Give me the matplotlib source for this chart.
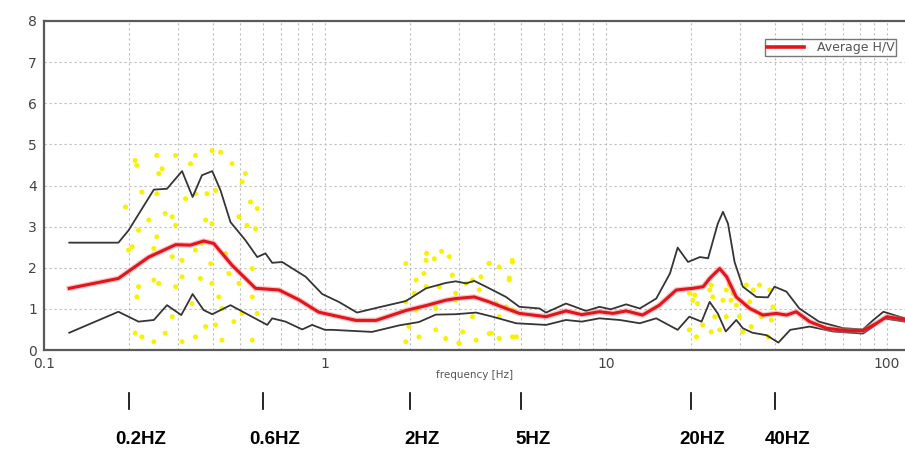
"""
H/V spectral ratio plot — average curve with +/- std envelopes,
yellow window-scatter blobs, and frequency markers underneath.
"""

import matplotlib
matplotlib.use("Agg")
import matplotlib.pyplot as plt
import matplotlib.transforms as mtransforms
from matplotlib.ticker import FixedLocator, NullFormatter

# ── Average H/V (red) ──────────────────────────────────────────────────────
avg_f = [0.123, 0.184, 0.236, 0.294, 0.332, 0.37, 0.402, 0.467, 0.566, 0.686,
         0.808, 0.95, 1.29, 1.52, 1.94, 2.29, 2.69, 2.92, 3.40, 3.84, 4.41,
         4.92, 5.49, 6.12, 7.21, 8.2, 9.48, 10.6, 11.8, 13.5, 15.5, 17.8,
         20.4, 22.2, 23.4, 25.4, 26.9, 29.1, 32.5, 36.2, 40.4, 43.9, 47.6,
         53.1, 60.9, 71.8, 82.2, 91.8, 100, 116]
avg_v = [1.50, 1.74, 2.26, 2.56, 2.55, 2.65, 2.59, 2.06, 1.50, 1.46,
         1.22, 0.92, 0.72, 0.72, 0.96, 1.08, 1.21, 1.25, 1.29, 1.17, 1.01,
         0.89, 0.85, 0.81, 0.95, 0.86, 0.93, 0.89, 0.95, 0.85, 1.09, 1.46,
         1.50, 1.54, 1.74, 1.98, 1.78, 1.29, 1.01, 0.85, 0.89, 0.85, 0.93,
         0.69, 0.53, 0.47, 0.47, 0.65, 0.81, 0.74]

# ── Upper envelope ─────────────────────────────────────────────────────────
up_f = [0.123, 0.184, 0.200, 0.246, 0.274, 0.310, 0.338, 0.365, 0.397, 0.425,
        0.461, 0.521, 0.574, 0.614, 0.649, 0.704, 0.854, 0.978, 1.12, 1.30,
        1.56, 1.94, 2.29, 2.69, 2.92, 3.18, 3.40, 3.74, 4.41, 4.92, 5.80,
        6.12, 7.21, 8.5, 9.48, 10.4, 11.8, 13.2, 15.1, 16.9, 18.0, 19.6,
        21.6, 23.1, 25.0, 26.1, 27.2, 28.7, 30.7, 34.3, 37.7, 39.8, 43.9,
        48.8, 57.3, 69.9, 82.2, 89.5, 97.2, 108.4, 116]
up_v = [2.61, 2.61, 2.91, 3.90, 3.92, 4.35, 3.72, 4.25, 4.35, 3.88,
        3.11, 2.67, 2.26, 2.35, 2.12, 2.14, 1.78, 1.36, 1.17, 0.91,
        1.04, 1.19, 1.50, 1.63, 1.67, 1.62, 1.68, 1.54, 1.29, 1.05, 1.01,
        0.91, 1.13, 0.95, 1.05, 0.99, 1.11, 1.01, 1.25, 1.86, 2.49, 2.14,
        2.26, 2.23, 3.07, 3.36, 3.07, 2.14, 1.54, 1.29, 1.28, 1.54, 1.42,
        1.01, 0.69, 0.53, 0.50, 0.73, 0.93, 0.83, 0.77]

# ── Lower envelope ─────────────────────────────────────────────────────────
lo_f = [0.123, 0.184, 0.217, 0.246, 0.274, 0.308, 0.338, 0.370, 0.397, 0.461,
        0.536, 0.623, 0.649, 0.724, 0.830, 0.900, 1.0, 1.06, 1.47, 1.84,
        2.16, 2.48, 2.92, 3.45, 3.95, 4.79, 6.12, 7.21, 8.2, 9.48, 11.2,
        13.2, 15.1, 18.0, 19.8, 21.9, 23.4, 25.0, 26.7, 29.1, 30.7, 33.2,
        37.3, 41.1, 45.3, 53.1, 64.4, 82.2, 89.5, 97.2, 116]
lo_v = [0.42, 0.93, 0.69, 0.73, 1.09, 0.85, 1.36, 0.97, 0.87, 1.09,
        0.85, 0.61, 0.77, 0.69, 0.50, 0.61, 0.49, 0.49, 0.44, 0.60,
        0.68, 0.86, 0.87, 0.91, 0.81, 0.65, 0.61, 0.73, 0.69, 0.77, 0.73,
        0.65, 0.77, 0.49, 0.81, 0.69, 1.17, 0.89, 0.45, 0.73, 0.53, 0.42,
        0.36, 0.18, 0.49, 0.57, 0.45, 0.40, 0.57, 0.77, 0.69]

# ── Yellow window blobs (freq, H/V) ────────────────────────────────────────
dots_f = [0.211, 0.214, 0.252, 0.263, 0.256, 0.294, 0.346, 0.332, 0.425, 0.396,
          0.467, 0.521, 0.507, 0.543, 0.574, 0.408, 0.380, 0.319, 0.346, 0.252,
          0.223, 0.195, 0.236, 0.270, 0.286, 0.294, 0.376, 0.396, 0.494, 0.528,
          0.566, 0.200, 0.206, 0.246, 0.217, 0.252, 0.286, 0.310, 0.346, 0.365,
          0.392, 0.443, 0.455, 0.551, 0.494, 0.217, 0.214, 0.246, 0.256, 0.294,
          0.310, 0.360, 0.396, 0.419, 0.336, 0.286, 0.430, 0.507, 0.574, 0.551,
          0.211, 0.223, 0.246, 0.270, 0.310, 0.346, 0.430, 0.551, 0.376, 0.408,
          0.474,
          1.94, 2.29, 2.45, 2.77, 2.84, 2.25, 2.11, 2.08, 2.29, 2.55,
          2.92, 3.18, 3.35, 3.59, 3.84, 4.17, 4.53, 4.65, 1.94, 2.11,
          2.48, 2.92, 3.35, 3.54, 4.06, 4.17, 4.41, 4.65, 1.99, 2.16,
          2.48, 2.69, 3.0, 3.09, 3.84, 4.17, 4.65, 1.94, 3.45, 3.84,
          4.64, 4.53, 3.0, 3.91, 4.8, 2.3, 2.6,
          19.8, 20.7, 20.4, 21.2, 23.4, 24.0, 23.7, 26.1, 26.8, 28.3,
          27.9, 29.1, 27.5, 31.6, 32.5, 33.4, 35.2, 38.3, 39.3, 38.8,
          19.8, 21.0, 22.1, 23.7, 25.4, 26.8, 29.9, 30.7, 32.9, 37.8,
          35.7, 24.4]
dots_v = [4.61, 4.49, 4.73, 4.41, 4.29, 4.73, 4.73, 4.53, 4.81, 4.85,
          4.53, 4.29, 4.09, 3.60, 3.44, 3.88, 3.80, 3.68, 3.80, 3.80,
          3.84, 3.48, 3.16, 3.32, 3.24, 3.03, 3.16, 3.07, 3.24, 3.03,
          2.95, 2.43, 2.51, 2.47, 2.91, 2.75, 2.27, 2.18, 2.43, 2.59,
          2.10, 2.35, 1.86, 1.98, 1.62, 1.54, 1.29, 1.70, 1.62, 1.54,
          1.78, 1.74, 1.62, 1.29, 1.13, 0.81, 1.01, 0.89, 0.89, 1.29,
          0.41, 0.32, 0.20, 0.41, 0.20, 0.32, 0.24, 0.24, 0.57, 0.61,
          0.69,
          2.10, 2.18, 2.22, 2.27, 1.82, 1.86, 1.70, 1.38, 1.54, 1.54,
          1.38, 1.62, 1.70, 1.78, 2.10, 2.02, 1.70, 2.14, 1.17, 0.97,
          1.01, 1.21, 0.81, 1.46, 1.13, 0.81, 1.05, 0.97, 0.57, 0.32,
          0.49, 0.28, 0.16, 0.44, 0.40, 0.28, 0.32, 0.20, 0.24, 2.11,
          2.18, 1.75, 0.17, 0.41, 0.32, 2.35, 2.40,
          1.38, 1.34, 1.21, 1.13, 1.46, 1.29, 1.58, 1.21, 1.46, 1.38,
          1.21, 1.09, 1.58, 1.58, 1.17, 1.46, 1.58, 1.46, 1.05, 0.73,
          0.49, 0.32, 0.61, 0.44, 0.49, 0.81, 0.81, 0.44, 0.57, 0.32,
          0.81, 0.81]

# ── Frequency markers below the plot ──────────────────────────────────────
mark_f      = [0.2, 0.6, 2, 5, 20, 40]
mark_labels = ["0.2HZ", "0.6HZ", "2HZ", "5HZ", "20HZ", "40HZ"]

x_ticks  = [0.1, 1, 10, 100]
x_labels = ["0.1", "1", "10", "100"]
y_ticks  = [0, 1, 2, 3, 4, 5, 6, 7, 8]

# ══════════════════════════════════════════════════════════════════════════
fig = plt.figure(figsize=(9.05, 4.58), dpi=100)
ax = fig.add_axes([44 / 905, 1 - 350 / 458, 1 - 44 / 905, (350 - 21) / 458])

ax.set_xscale("log")
ax.set_xlim(0.1, 116)
ax.set_ylim(0, 8)

# grid — dashed, majors and log minors
grid_kw = dict(color="#bdbdbd", linestyle=(0, (2, 2.5)), linewidth=0.8)
ax.xaxis.set_minor_locator(FixedLocator(
    [m * d for d in (0.1, 1, 10) for m in range(2, 10)]))
ax.xaxis.set_minor_formatter(NullFormatter())
ax.grid(True, which="major", axis="both", **grid_kw)
ax.grid(True, which="minor", axis="x", **grid_kw)
ax.set_axisbelow(True)

ax.scatter(dots_f, dots_v, s=13, color="#f7f200", edgecolors="none", zorder=2)

ax.plot(up_f, up_v, color="#353535", linewidth=1.3, zorder=3)
ax.plot(lo_f, lo_v, color="#353535", linewidth=1.3, zorder=3)
# soft halo under the average curve
ax.plot(avg_f, avg_v, color="#f08080", linewidth=4.0, alpha=0.45, zorder=4)
ax.plot(avg_f, avg_v, color="#e3141b", linewidth=2.2, zorder=5,
        label="Average H/V")

ax.set_xticks(x_ticks)
ax.set_xticklabels(x_labels)
ax.set_yticks(y_ticks)
ax.tick_params(which="both", length=0, labelsize=10, labelcolor="#444444")
ax.tick_params(axis="x", pad=5)
ax.tick_params(axis="y", pad=5)
ax.set_xlabel("frequency [Hz]", fontsize=7.5, color="#555555", labelpad=-1)

for side in ("left", "bottom", "top"):
    ax.spines[side].set_color("#5a5a5a")
    ax.spines[side].set_linewidth(1.6)
ax.spines["right"].set_visible(False)

leg = ax.legend(loc="upper right", bbox_to_anchor=(0.99, 0.945), fontsize=9,
                frameon=True, fancybox=False, handlelength=3.0,
                borderpad=0.15, handletextpad=1.0, borderaxespad=0)
leg.get_frame().set_edgecolor("#555555")
leg.get_frame().set_linewidth(1.0)
leg.get_lines()[0].set_linewidth(2.6)
for t in leg.get_texts():
    t.set_color("#555555")

# ── markers under the axes (data x, figure y) ─────────────────────────────
blend = mtransforms.blended_transform_factory(ax.transData, fig.transFigure)
txt_trans = mtransforms.offset_copy(blend, fig=fig, x=12, y=0, units="dots")
for f, lab in zip(mark_f, mark_labels):
    ax.plot([f, f], [1 - 393 / 458, 1 - 409 / 458], transform=blend,
            color="black", linewidth=1.2, clip_on=False)
    ax.text(f, 1 - 439 / 458, lab, transform=txt_trans, ha="center",
            va="center", fontsize=13.5, fontweight="bold",
            family=["Liberation Sans", "DejaVu Sans"])

fig.savefig("out.png", dpi=100)
